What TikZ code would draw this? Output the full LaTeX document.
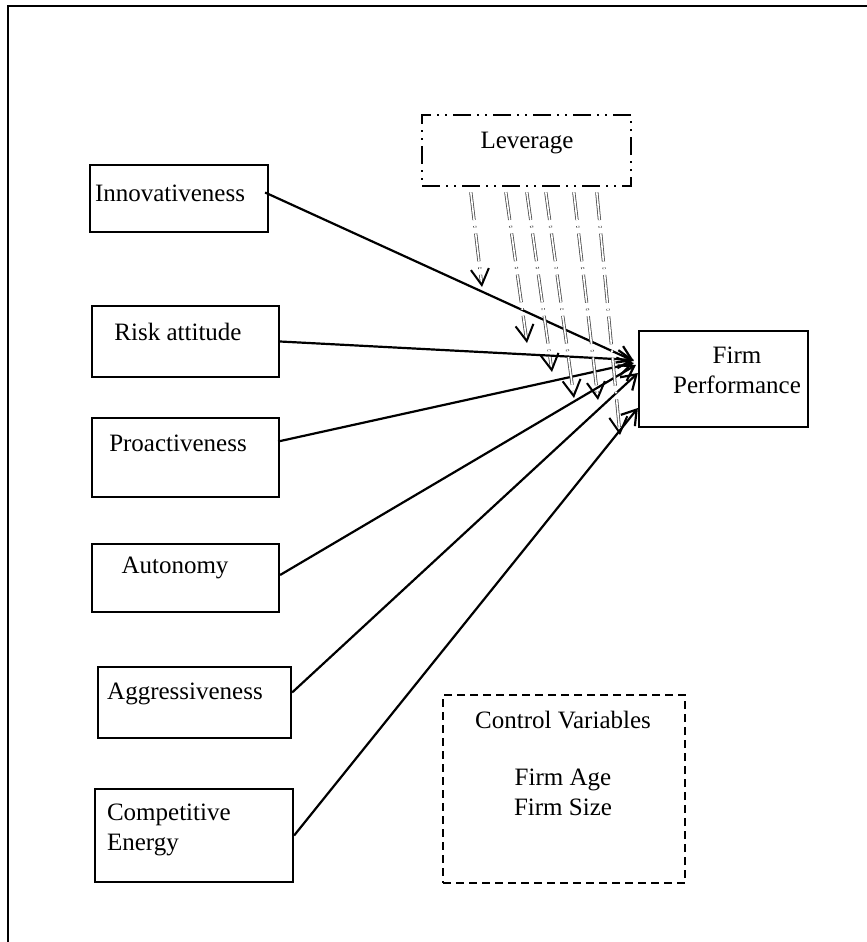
\documentclass[tikz,border=0pt]{standalone}
\usepackage{fontspec}
\setmainfont{Liberation Serif}
\usetikzlibrary{arrows.meta,calc,fit}

\tikzset{
  fbox/.style={draw, line width=1.1pt, inner sep=0pt},
  levbox/.style={fbox, line width=1.2pt, dash pattern=on 9pt off 3pt on 1pt off 3pt on 1pt off 3pt},
  ctrlbox/.style={fbox, line width=1.2pt, dash pattern=on 4pt off 2.5pt},
  lbl/.style={font=\fontsize{12.5}{15}\selectfont, align=center},
  effarr/.style={line width=1.1pt, -{Straight Barb[length=7pt,width=9pt]}},
  levarr/.style={draw=black!70, double=white, double distance=0.8pt, line width=0.4pt,
    dash pattern=on 14pt off 3pt on 0.8pt off 3pt, -{Straight Barb[length=8pt,width=9pt,color=black,line width=1pt]}}
}

\begin{document}
\begin{tikzpicture}[x=0.5pt, y=-0.5pt]
\useasboundingbox (0,0) rectangle (867,942);
\draw[line width=1.1pt] (8,942) -- (8,6) -- (867,6);
% construct boxes
\node[fbox, fit={(90,165) (268,232)}] (inno) {}; \node[lbl] at (170,193) {Innovativeness};
\node[fbox, fit={(92,306) (279,377)}] (risk) {}; \node[lbl] at (178,332) {Risk attitude};
\node[fbox, fit={(92,418) (279,497)}] (proa) {}; \node[lbl] at (178,443) {Proactiveness};
\node[fbox, fit={(92,544) (279,612)}] (auto) {}; \node[lbl] at (175,568) {Autonomy};
\node[fbox, fit={(98,667) (291,738)}] (aggr) {}; \node[lbl] at (185,694) {Aggressiveness};
\node[fbox, fit={(95,789) (293,882)}] (comp) {}; \node[lbl, align=left, anchor=west] at (100,830) {Competitive\\Energy};
% outcome, moderator, controls
\node[fbox, fit={(639,331) (808,427)}] (fp) {}; \node[lbl] at (737,370) {Firm\\Performance};
\node[levbox, fit={(422,115) (631,186)}] (lev) {}; \node[lbl] at (527,143) {Leverage};
\node[ctrlbox, fit={(443,695) (685,883)}] (ctrl) {}; \node[lbl] at (563,720) {Control Variables};
\node[lbl] at (563,792) {Firm Age\\Firm Size};
% direct effects
\draw[effarr] ($(inno.east)+(-4,-6)$) -- ($(fp.west)+(-4,-18)$);
\draw[effarr] ($(risk.east)$) -- ($(fp.west)+(-4,-19)$);
\draw[effarr] ($(proa.east)+(-2,-16)$) -- ($(fp.west)+(-4,-16)$);
\draw[effarr] ($(auto.east)+(0,-3)$) -- ($(fp.west)+(-2,-14)$);
\draw[effarr] ($(aggr.east)+(0,-10)$) -- ($(fp.west)+(0,-6)$);
\draw[effarr] (comp.east) -- ($(fp.west)+(0,29)$);
% moderating effects
\foreach \i/\sx/\tx/\ty in {1/50/482/287, 2/85/527/343, 3/106/552/372, 4/125/574/398, 5/153/598/400, 6/176/620/435} {
  \coordinate (m\i) at (\tx,\ty);
  \draw[levarr] ($(lev.south west)+(\sx,5)$) -- (m\i);
}
\end{tikzpicture}
\end{document}
